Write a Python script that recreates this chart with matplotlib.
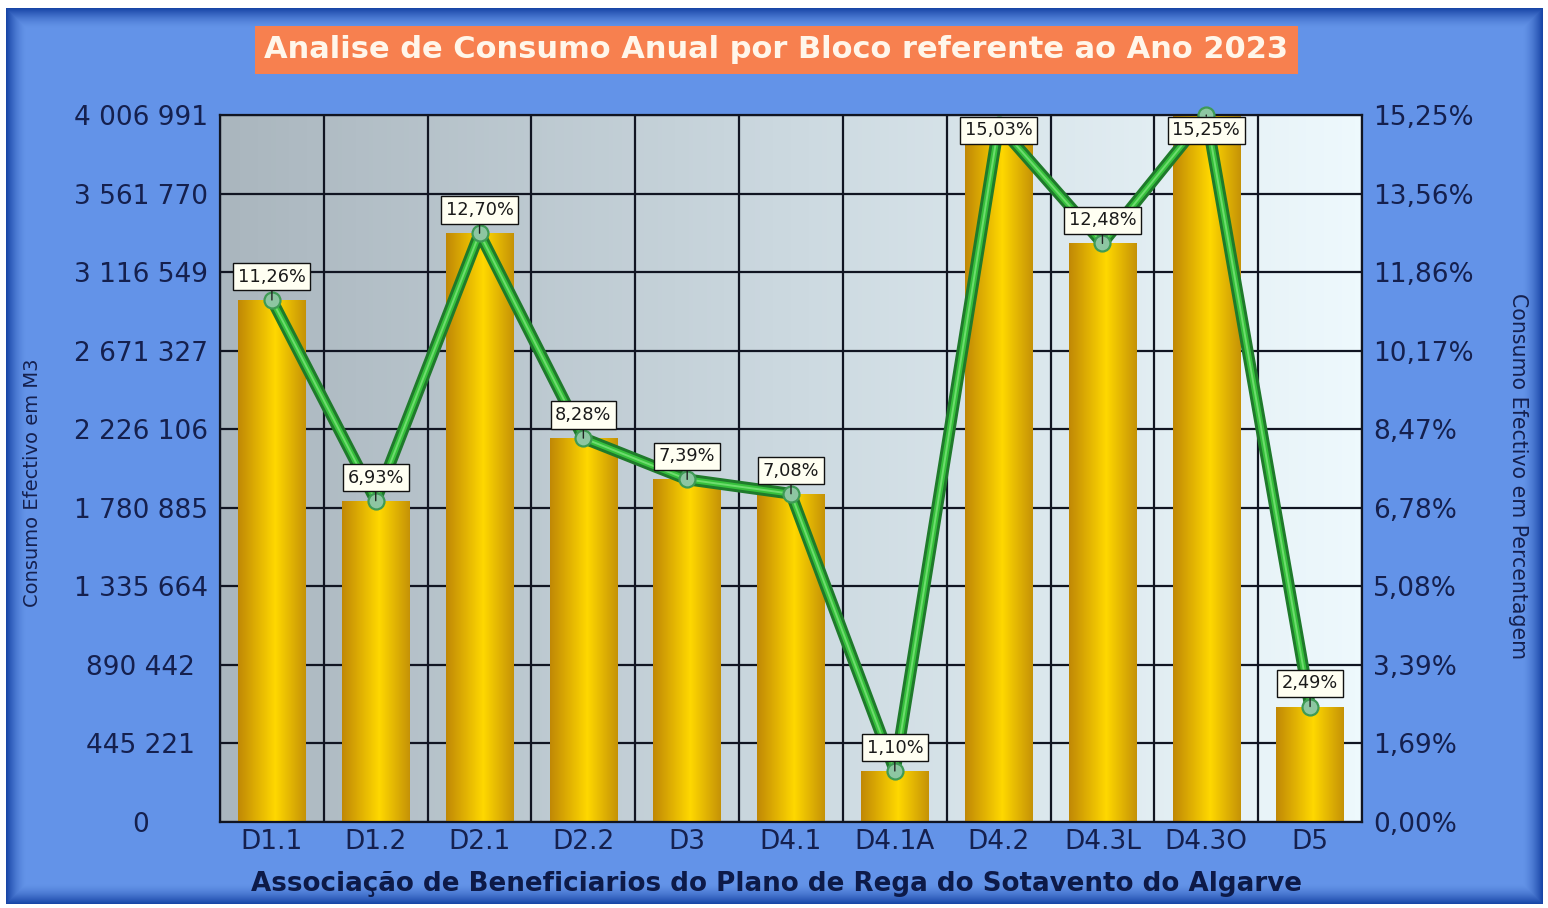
import numpy as np
import matplotlib
matplotlib.use("Agg")
import matplotlib.pyplot as plt
from matplotlib.colors import LinearSegmentedColormap, to_rgb
import matplotlib.patheffects as pe
from matplotlib.ticker import FixedLocator, FuncFormatter

# ---------------- data ----------------
categories = ["D1.1", "D1.2", "D2.1", "D2.2", "D3", "D4.1", "D4.1A",
              "D4.2", "D4.3L", "D4.3O", "D5"]
consumo_m3 = [2958604, 1820882, 3336970, 2175599, 1941748, 1860295,
              289029, 3949185, 3279164, 4006991, 654256]
percentagem = [11.26, 6.93, 12.70, 8.28, 7.39, 7.08, 1.10, 15.03, 12.48,
               15.25, 2.49]
left_max = 4006991
right_max = 15.25
n_ticks = 9

title = "Analise de Consumo Anual por Bloco referente ao Ano 2023"
xlabel = "Associação de Beneficiarios do Plano de Rega do Sotavento do Algarve"
ylabel_left = "Consumo Efectivo em M3"
ylabel_right = "Consumo Efectivo em Percentagem"

# ---------------- figure ----------------
W, H = 1548, 908
fig = plt.figure(figsize=(W / 100, H / 100), dpi=100, facecolor="white")

# background with darker blue border
bg_ax = fig.add_axes([0, 0, 1, 1], zorder=-10)
bg_ax.set_axis_off()
yy, xx = np.mgrid[0:H, 0:W]
x0, x1, y0, y1 = 6, 1542, 8, 903
inside = (xx >= x0) & (xx <= x1) & (yy >= y0) & (yy <= y1)
d = np.minimum.reduce([xx - x0, x1 - xx, yy - y0, y1 - yy]).astype(float)
f = np.clip(1 - d / 20.0, 0, 1) ** 1.6
base = np.array(to_rgb("#6393E8"))
dark = np.array(to_rgb("#1845A6"))
img = base[None, None, :] * (1 - f[..., None]) + dark[None, None, :] * f[..., None]
img[~inside] = 1.0
bg_ax.imshow(img, extent=[0, 1, 0, 1], aspect="auto", interpolation="bilinear")
bg_ax.set_xlim(0, 1)
bg_ax.set_ylim(0, 1)

# main axes
L, R, T, B = 220, 1362, 115, 822
ax = fig.add_axes([L / W, 1 - B / H, (R - L) / W, (B - T) / H])
ax.patch.set_alpha(0)
x = np.arange(len(categories))
ax.set_xlim(-0.5, len(categories) - 0.5)
ax.set_ylim(0, left_max)

# plot area gradient
grad = np.linspace(0, 1, 256)[None, :]
bg_cmap = LinearSegmentedColormap.from_list("bg", ["#AAB6BE", "#CCD9E0", "#EEF9FD"])
ax.imshow(grad, cmap=bg_cmap, extent=[-0.5, len(categories) - 0.5, 0, left_max],
          aspect="auto", zorder=0, interpolation="bilinear")

# bars with horizontal gradient
bar_cmap = LinearSegmentedColormap.from_list(
    "bar", [(0, "#C08806"), (0.55, "#FFD800"), (1, "#C59207")])
bars = ax.bar(x, consumo_m3, width=0.65, color="none", edgecolor="none", zorder=1)
for p in bars:
    bx, bw, bh = p.get_x(), p.get_width(), p.get_height()
    im = ax.imshow(grad, cmap=bar_cmap, extent=[bx, bx + bw, 0, bh],
                   aspect="auto", zorder=1, interpolation="bilinear")
    im.set_clip_path(p)
ax.set_xlim(-0.5, len(categories) - 0.5)
ax.set_ylim(0, left_max)

# ticks & grid
tick_col = "#15204E"
left_ticks = [left_max * i / n_ticks for i in range(n_ticks + 1)]
ax.yaxis.set_major_locator(FixedLocator(left_ticks))
ax.yaxis.set_major_formatter(FuncFormatter(
    lambda v, _: f"{int(round(v)):,}".replace(",", " ")))
ax.set_xticks(x)
ax.set_xticklabels(categories)
ax.set_xticks(np.arange(len(categories) + 1) - 0.5, minor=True)
ax.set_axisbelow(True)
ax.grid(True, axis="y", which="major", color="#111522", lw=1.6)
ax.grid(True, axis="x", which="minor", color="#111522", lw=1.6)
ax.grid(False, axis="x", which="major")
ax.tick_params(axis="both", which="both", length=0)
ax.tick_params(axis="x", labelsize=19, labelcolor=tick_col, pad=5)
ax.tick_params(axis="y", labelsize=19, labelcolor=tick_col, pad=57)
for lab in ax.get_yticklabels():
    lab.set_horizontalalignment("center")
for s in ax.spines.values():
    s.set_color("#111522")
    s.set_linewidth(1.6)
    s.set_zorder(4)

# secondary axis: percentages
ax2 = ax.twinx()
ax2.set_ylim(0, right_max)
right_ticks = [right_max * i / n_ticks for i in range(n_ticks + 1)]
ax2.yaxis.set_major_locator(FixedLocator(right_ticks))
ax2.yaxis.set_major_formatter(FuncFormatter(
    lambda v, _: f"{v:.2f}".replace(".", ",") + "%"))
ax2.tick_params(axis="y", length=0, labelsize=19, labelcolor=tick_col, pad=8)
for s in ax2.spines.values():
    s.set_visible(False)

ax2.plot(x, percentagem, color="#36C03C", lw=4.2, zorder=3, solid_capstyle="round",
         solid_joinstyle="round",
         path_effects=[pe.Stroke(linewidth=8.5, foreground="#1F7A2B"), pe.Normal()])
ax2.plot(x, percentagem, color="#6EDC6E", lw=1.4, zorder=3.1, solid_joinstyle="round")
ax2.plot(x, percentagem, ls="none", marker="o", ms=11.5, mfc="#8DC6A2",
         mec="#3E9A55", mew=1.6, zorder=3.2, clip_on=False)

label_off = 0.50
label_cap = right_max - 0.33
for xi, v in zip(x, percentagem):
    ty = min(v + label_off, label_cap)
    ax2.annotate(f"{v:.2f}".replace(".", ",") + "%", xy=(xi, v), xytext=(xi, ty),
                 ha="center", va="center", fontsize=12.8, color="#1A1A1A",
                 zorder=6, annotation_clip=False,
                 bbox=dict(boxstyle="square,pad=0.26", fc="#FFFFF2", ec="#111111", lw=1),
                 arrowprops=dict(arrowstyle="-", color="#222222", lw=1,
                                 shrinkA=0, shrinkB=0))

# texts
fig.text(776.5 / W, 1 - 50 / H, title, ha="center", va="center", fontsize=22,
         fontweight="bold", color="#FFF6EA",
         bbox=dict(boxstyle="square,pad=0.3", fc="#F7804F", ec="none"))
fig.text(776 / W, 1 - 884 / H, xlabel, ha="center", va="center", fontsize=18.8,
         fontweight="bold", color="#0D1A48")
fig.text(33 / W, 1 - 483 / H, ylabel_left, ha="center", va="center", rotation=90,
         fontsize=14, color=tick_col)
fig.text(1518 / W, 1 - 476 / H, ylabel_right, ha="center", va="center",
         rotation=270, fontsize=14.8, color=tick_col)

fig.savefig("out.png", dpi=100)
